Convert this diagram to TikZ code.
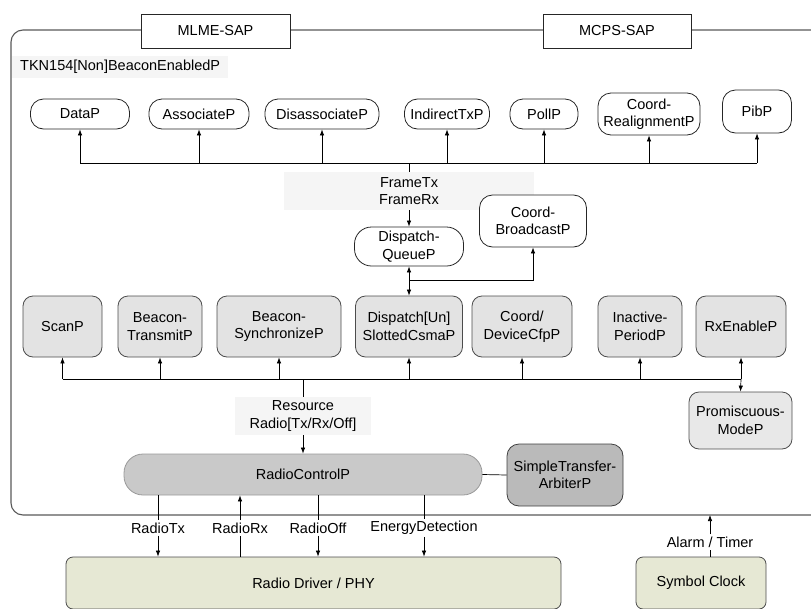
\documentclass[tikz,border=0pt]{standalone}
\usepackage{fontspec}
\setmainfont{Liberation Sans}
\usetikzlibrary{arrows.meta}
\definecolor{phy}{RGB}{230,232,212}
\begin{document}
\begin{tikzpicture}[x=1pt,y=1pt,
  every node/.style={font=\fontsize{14.5}{17.5}\selectfont, align=center, inner sep=1pt},
  topbox/.style={draw=black!85, fill=white, rounded corners=13pt, line width=0.8pt},
  rowbox/.style={draw=black!70, fill=black!11, rounded corners=10pt, line width=0.8pt},
  sapbox/.style={draw=black!85, fill=white, line width=0.8pt, minimum width=149pt, minimum height=34pt},
  lbl/.style={fill=black!4, inner sep=0pt},
  wlbl/.style={fill=white, inner sep=2pt},
  phybox/.style={draw=black!70, fill=phy, rounded corners=7pt, line width=0.8pt, minimum height=52pt},
  arr/.style={-{Latex[length=6pt,width=4.5pt]}, line width=0.7pt},
  ln/.style={line width=0.7pt},
]
\useasboundingbox (0,0) rectangle (811,-608);
% outer frame
\draw[line width=1.1pt, black!65] (830,-30) -- (23,-30) arc[start angle=90,end angle=180,radius=12] -- (11,-503) arc[start angle=180,end angle=270,radius=12] -- (830,-515);
% SAP boxes
\node[sapbox] (mlme) at (215.5,-31) {MLME-SAP};
\node[sapbox, minimum width=148pt] (mcps) at (617,-31) {MCPS-SAP};
% component label
\node[lbl, anchor=west, inner xsep=8pt, inner ysep=4pt] (tkn) at (12,-67) {TKN154[Non]BeaconEnabledP};
% top row
\node[topbox, minimum width=99pt, minimum height=30pt] (data) at (80,-114) {DataP};
\node[topbox, minimum width=100pt, minimum height=30pt] (assoc) at (199,-114) {AssociateP};
\node[topbox, minimum width=114pt, minimum height=30pt] (disassoc) at (322,-114) {DisassociateP};
\node[topbox, minimum width=85pt, minimum height=30pt] (indirect) at (447,-114) {IndirectTxP};
\node[topbox, minimum width=68pt, minimum height=30pt] (poll) at (544,-114) {PollP};
\node[topbox, minimum width=102pt, minimum height=42pt] (realign) at (649,-114) {Coord-\\RealignmentP};
\node[topbox, minimum width=69pt, minimum height=43pt] (pib) at (757,-111.5) {PibP};
\coordinate (b1) at (409,-163);
\draw[ln] (data.south |- b1) -- (pib.south |- b1);
\foreach \n in {data,assoc,disassoc,indirect,poll,realign,pib}
  \draw[arr] (\n.south |- b1) -- (\n.south);
% FrameTx / FrameRx
\node[lbl, minimum width=250pt, minimum height=38pt] (ftx) at (409,-191) {FrameTx\\FrameRx};
\draw[ln] (b1) -- (ftx.north);
\node[topbox, rounded corners=17pt, minimum width=109pt, minimum height=39pt] (dq) at (409,-246.5) {Dispatch-\\QueueP};
\draw[arr] (ftx.south) -- (dq.north);
\node[topbox, minimum width=107pt, minimum height=52pt] (cb) at (533,-221) {Coord-\\BroadcastP};
% second row
\node[rowbox, minimum width=79pt, minimum height=61pt] (scan) at (62.5,-326.5) {ScanP};
\node[rowbox, minimum width=84pt, minimum height=61pt] (btx) at (160,-326.5) {Beacon-\\TransmitP};
\node[rowbox, minimum width=124pt, minimum height=61pt] (bsync) at (279,-326.5) {Beacon-\\SynchronizeP};
\node[rowbox, minimum width=107pt, minimum height=61pt] (csma) at (409,-326.5) {Dispatch[Un]\\SlottedCsmaP};
\node[rowbox, minimum width=100pt, minimum height=61pt] (cfp) at (522,-326.5) {Coord/\\DeviceCfpP};
\node[rowbox, minimum width=84pt, minimum height=61pt] (inact) at (640,-326.5) {Inactive-\\PeriodP};
\node[rowbox, minimum width=90pt, minimum height=61pt] (rxen) at (741,-326.5) {RxEnableP};
\coordinate (j1) at (409,-280);
\draw[arr] (j1) -- (csma.north);
\draw[arr] (j1) -- (dq.south);
\draw[arr] (j1) -| (cb.south);
\coordinate (b2) at (303,-379);
\draw[ln] (scan.south |- b2) -- (rxen.south |- b2);
\foreach \n in {scan,btx,bsync,csma,cfp,inact,rxen}
  \draw[arr] (\n.south |- b2) -- (\n.south);
\node[rowbox, fill=black!9, minimum width=103pt, minimum height=57pt] (prom) at (740.5,-420.5) {Promiscuous-\\ModeP};
\draw[arr] (rxen.south |- b2) -- (prom.north);
% Resource label
\node[lbl, minimum width=136pt, minimum height=38pt] (res) at (303,-416) {Resource\\Radio[Tx/Rx/Off]};
\draw[ln] (b2) -- (res.north);
\node[draw=black!40, fill=black!21, rounded corners=19pt, minimum width=358pt, minimum height=41pt, line width=0.8pt] (rc) at (303,-474.5) {RadioControlP};
\draw[arr] (res.south) -- (rc.north);
\node[draw=black!75, fill=black!27, rounded corners=12pt, minimum width=116pt, minimum height=62pt, line width=0.8pt] (sta) at (565,-475) {SimpleTransfer-\\ArbiterP};
\draw[ln] (rc.east) -- (sta.west);
% bottom boxes
\node[phybox, minimum width=495pt] (rd) at (313.5,-583) {Radio Driver / PHY};
\node[phybox, minimum width=130pt] (sc) at (701,-583) {Symbol Clock};
% radio interfaces
\node[wlbl] (ltx) at (158,-528) {RadioTx};
\node[wlbl] (lrx) at (240,-528) {RadioRx};
\node[wlbl] (loff) at (318,-528) {RadioOff};
\node[wlbl] (led) at (424,-528) {EnergyDetection};
\draw[ln] (ltx |- rc.south) -- (ltx.north);
\draw[arr] (ltx.south) -- (ltx |- rd.north);
\draw[ln] (lrx |- rd.north) -- (lrx.south);
\draw[arr] (lrx.north) -- (lrx |- rc.south);
\draw[ln] (loff |- rc.south) -- (loff.north);
\draw[arr] (loff.south) -- (loff |- rd.north);
\draw[ln] (led |- rc.south) -- (led.north);
\draw[arr] (led.south) -- (led |- rd.north);
% alarm / timer
\coordinate (fb) at (710,-515);
\node[wlbl] (alarm) at (710,-542) {Alarm / Timer};
\draw[ln] (alarm |- sc.north) -- (alarm.south);
\draw[arr] (alarm.north) -- (fb);
\end{tikzpicture}
\end{document}
